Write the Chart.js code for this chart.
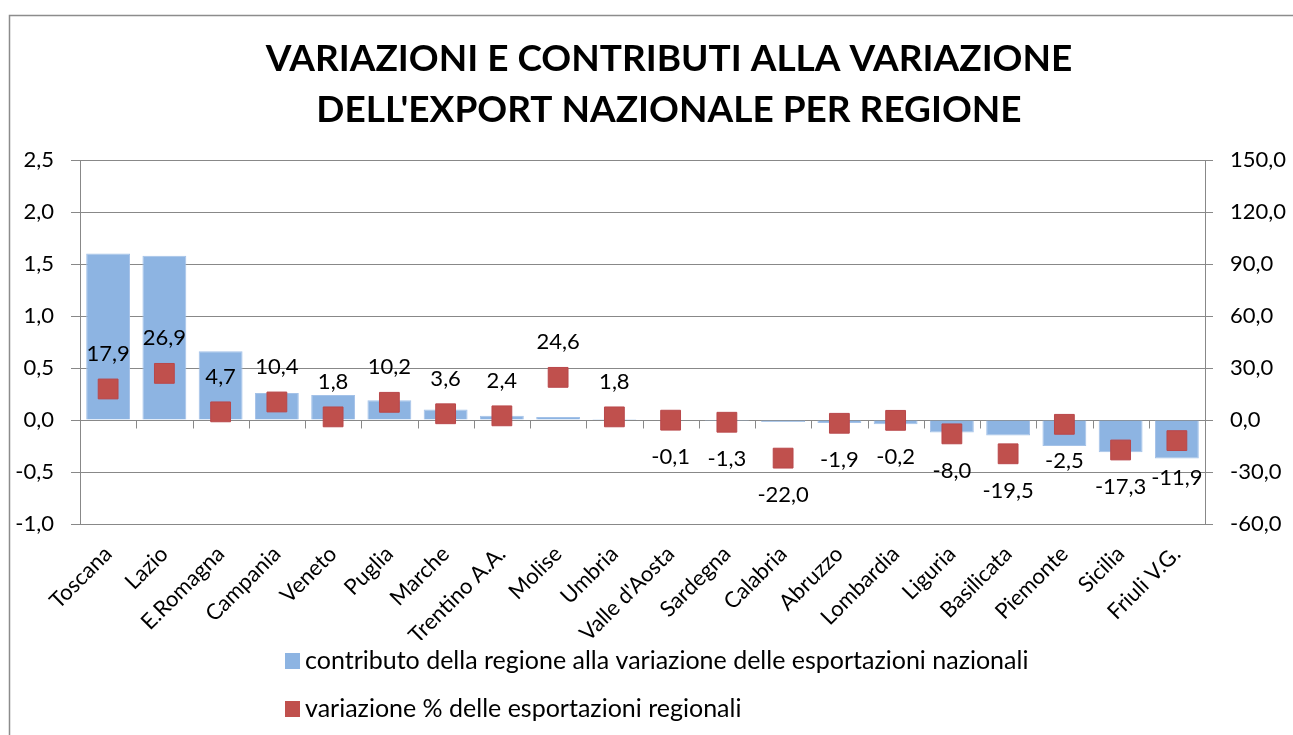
<!DOCTYPE html>
<html>
<head>
<script src="https://cdn.jsdelivr.net/npm/chart.js@4.4.0/dist/chart.umd.min.js"></script>
<style>
  body { margin: 0; background: #fff; }
</style>
</head>
<body>
<canvas id="myChart" width="1293" height="735"></canvas>
<script>
// DATA
const regioni = ['Toscana', 'Lazio', 'E.Romagna', 'Campania', 'Veneto', 'Puglia', 'Marche', 'Trentino A.A.', 'Molise', 'Umbria',
  "Valle d'Aosta", 'Sardegna', 'Calabria', 'Abruzzo', 'Lombardia', 'Liguria', 'Basilicata', 'Piemonte', 'Sicilia', 'Friuli V.G.'];
const contributo = [1.60, 1.58, 0.66, 0.26, 0.24, 0.19, 0.10, 0.04, 0.03, 0.01,
  0.00, -0.01, -0.02, -0.03, -0.04, -0.12, -0.15, -0.25, -0.31, -0.37];
const variazione = [17.9, 26.9, 4.7, 10.4, 1.8, 10.2, 3.6, 2.4, 24.6, 1.8,
  -0.1, -1.3, -22.0, -1.9, -0.2, -8.0, -19.5, -2.5, -17.3, -11.9];
const titolo = ['VARIAZIONI E CONTRIBUTI ALLA VARIAZIONE', "DELL'EXPORT NAZIONALE PER REGIONE"];
const legenda = ['contributo della regione alla variazione delle esportazioni nazionali', 'variazione % delle esportazioni regionali'];
const asseSx = { min: -1, max: 2.5, step: 0.5 };
const asseDx = { min: -60, max: 150, step: 30 };

const FONT = 'Lato';
const GRIGIO = '#888888';
const BLU = '#8DB4E2';
const ROSSO = '#C0504D';

function virgola(v) {
  return Number(v).toFixed(1).replace('.', ',');
}

// frame + white background
const cornice = {
  id: 'cornice',
  beforeDraw(chart) {
    const ctx = chart.ctx;
    ctx.save();
    ctx.fillStyle = '#fff';
    ctx.fillRect(0, 0, chart.width, chart.height);
    ctx.strokeStyle = '#8c8c8c';
    ctx.lineWidth = 1.5;
    ctx.strokeRect(9.5, 15.5, 1400, 800);
    ctx.restore();
  }
};

// title drawn by hand, it is off-centre in the original
const titoloPlugin = {
  id: 'titoloPlugin',
  afterDraw(chart) {
    const ctx = chart.ctx;
    ctx.save();
    ctx.font = 'bold 37px ' + FONT;
    ctx.fillStyle = '#000';
    ctx.textAlign = 'center';
    ctx.textBaseline = 'middle';
    titolo.forEach((t, i) => ctx.fillText(t, 669, 59 + i * 51));
    ctx.restore();
  }
};

// small tick marks on the zero line between categories
const tacche = {
  id: 'tacche',
  afterDraw(chart) {
    const x = chart.scales.x, y = chart.scales.y;
    const y0 = Math.round(y.getPixelForValue(0)) + 0.5;
    const w = (x.right - x.left) / regioni.length;
    const ctx = chart.ctx;
    ctx.save();
    ctx.strokeStyle = GRIGIO;
    ctx.lineWidth = 1;
    ctx.beginPath();
    for (let i = 1; i < regioni.length; i++) {
      const px = Math.round(x.left + i * w) + 0.5;
      ctx.moveTo(px, y0);
      ctx.lineTo(px, y0 + 8);
    }
    ctx.stroke();
    ctx.restore();
  }
};

// value labels above / below the red squares
const etichette = {
  id: 'etichette',
  afterDatasetsDraw(chart) {
    const meta = chart.getDatasetMeta(0);
    const ctx = chart.ctx;
    ctx.save();
    ctx.font = '22px ' + FONT;
    ctx.fillStyle = '#000';
    ctx.textAlign = 'center';
    ctx.textBaseline = 'middle';
    meta.data.forEach((p, i) => {
      const v = variazione[i];
      ctx.fillText(virgola(v), p.x, v >= 0 ? p.y - 35 : p.y + 37);
    });
    ctx.restore();
  }
};

// legend, two rows like the original
const legendaPlugin = {
  id: 'legendaPlugin',
  afterDraw(chart) {
    const ctx = chart.ctx;
    const colori = [BLU, ROSSO];
    ctx.save();
    ctx.font = '25px ' + FONT;
    ctx.textBaseline = 'middle';
    ctx.textAlign = 'left';
    legenda.forEach((t, i) => {
      const yc = 661 + i * 48;
      ctx.fillStyle = colori[i];
      ctx.fillRect(285, yc - 8, 15, 16);
      ctx.fillStyle = '#000';
      ctx.fillText(t, 305, yc);
    });
    ctx.restore();
  }
};

const data = {
  labels: regioni,
  datasets: [{
    type: 'line',
    label: legenda[1],
    data: variazione,
    yAxisID: 'y1',
    showLine: false,
    pointStyle: 'rect',
    pointRadius: 14,
    pointHoverRadius: 14,
    pointBackgroundColor: ROSSO,
    pointBorderColor: '#B9474A',
    pointBorderWidth: 1,
    order: 0
  }, {
    type: 'bar',
    label: legenda[0],
    data: contributo,
    yAxisID: 'y',
    backgroundColor: BLU,
    borderColor: '#A4C2E8',
    borderWidth: 1,
    categoryPercentage: 0.78,
    barPercentage: 1.0,
    order: 1
  }]
};

const config = {
  data,
  options: {
    responsive: false,
    animation: false,
    layout: { padding: { top: 160, bottom: 95, left: 0, right: 0 } },
    plugins: {
      legend: { display: false },
      title: { display: false },
      tooltip: { enabled: false }
    },
    scales: {
      x: {
        grid: { display: false },
        border: { display: false },
        ticks: {
          color: '#000',
          font: { family: FONT, size: 22 },
          minRotation: 45,
          maxRotation: 45,
          autoSkip: false,
          padding: 9
        },
        afterFit: s => { s.height = 116; }
      },
      y: {
        position: 'left',
        min: asseSx.min,
        max: asseSx.max,
        ticks: {
          stepSize: asseSx.step,
          color: '#000',
          font: { family: FONT, size: 22 },
          padding: 17,
          callback: v => virgola(v)
        },
        grid: { color: GRIGIO, tickColor: GRIGIO, tickLength: 9, lineWidth: 1 },
        border: { color: GRIGIO },
        afterFit: s => { s.width = 80; }
      },
      y1: {
        position: 'right',
        min: asseDx.min,
        max: asseDx.max,
        ticks: {
          stepSize: asseDx.step,
          color: '#000',
          font: { family: FONT, size: 22 },
          padding: 17,
          callback: v => virgola(v)
        },
        grid: { drawOnChartArea: false, tickColor: GRIGIO, tickLength: 8 },
        border: { color: GRIGIO },
        afterFit: s => { s.width = 88; }
      }
    }
  },
  plugins: [cornice, titoloPlugin, tacche, etichette, legendaPlugin]
};

const myChart = new Chart(document.getElementById('myChart'), config);
</script>
</body>
</html>
